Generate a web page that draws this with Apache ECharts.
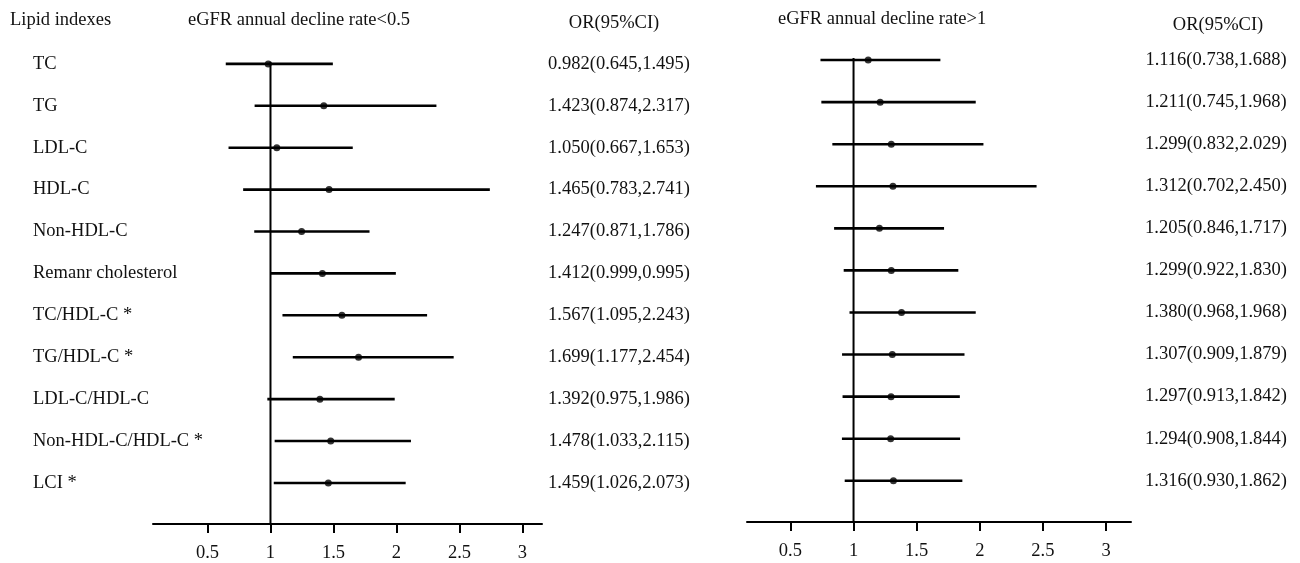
<!DOCTYPE html>
<html>
<head>
<meta charset="utf-8">
<script src="https://cdn.jsdelivr.net/npm/echarts@6/dist/echarts.min.js"></script>
<style>
	html, body { margin: 0; padding: 0; background: #fff; }
	#forest { width: 1300px; height: 563px; }
</style>
</head>
<body>
<div id="forest"></div>
<script>
var names = ['TC', 'TG', 'LDL-C', 'HDL-C', 'Non-HDL-C', 'Remanr cholesterol', 'TC/HDL-C *', 'TG/HDL-C *', 'LDL-C/HDL-C', 'Non-HDL-C/HDL-C *', 'LCI *'];

// eGFR annual decline rate<0.5
var lowOr = [0.982, 1.423, 1.050, 1.465, 1.247, 1.412, 1.567, 1.699, 1.392, 1.478, 1.459];
var lowLo = [0.645, 0.874, 0.667, 0.783, 0.871, 0.999, 1.095, 1.177, 0.975, 1.033, 1.026];
var lowHi = [1.495, 2.317, 1.653, 2.741, 1.786, 1.995, 2.243, 2.454, 1.986, 2.115, 2.073];
var lowLabels = ['0.982(0.645,1.495)', '1.423(0.874,2.317)', '1.050(0.667,1.653)', '1.465(0.783,2.741)', '1.247(0.871,1.786)', '1.412(0.999,0.995)', '1.567(1.095,2.243)', '1.699(1.177,2.454)', '1.392(0.975,1.986)', '1.478(1.033,2.115)', '1.459(1.026,2.073)'];

// eGFR annual decline rate>1
var highOr = [1.116, 1.211, 1.299, 1.312, 1.205, 1.299, 1.380, 1.307, 1.297, 1.294, 1.316];
var highLo = [0.738, 0.745, 0.832, 0.702, 0.846, 0.922, 0.968, 0.909, 0.913, 0.908, 0.930];
var highHi = [1.688, 1.968, 2.029, 2.450, 1.717, 1.830, 1.968, 1.879, 1.842, 1.844, 1.862];
var highLabels = ['1.116(0.738,1.688)', '1.211(0.745,1.968)', '1.299(0.832,2.029)', '1.312(0.702,2.450)', '1.205(0.846,1.717)', '1.299(0.922,1.830)', '1.380(0.968,1.968)', '1.307(0.909,1.879)', '1.297(0.913,1.842)', '1.294(0.908,1.844)', '1.316(0.930,1.862)'];

var xTicks = [0.5, 1, 1.5, 2, 2.5, 3];
var rowIdx = names.map(function(n, i) { return i; });

var FONT = 'Liberation Serif';
var FS = 18.5;
var yBottom = 10.98;

var chart = echarts.init(document.getElementById('forest'));

function xAx(gi, min, max) {
	return {
		type: 'value', gridIndex: gi, min: min, max: max, position: 'bottom',
		axisLine: { onZero: false, lineStyle: { color: '#000', width: 2 } },
		axisTick: { show: true, customValues: xTicks, length: 9, lineStyle: { color: '#000', width: 2 } },
		axisLabel: { customValues: xTicks, color: '#111', fontFamily: FONT, fontSize: FS, margin: 20 },
		splitLine: { show: false }
	};
}

function yAx(gi, pos, labels, margin, align) {
	return {
		type: 'value', gridIndex: gi, position: pos, inverse: true,
		min: -1, max: yBottom,
		axisLine: { show: false, onZero: false },
		axisTick: { show: false },
		splitLine: { show: false },
		axisLabel: {
			customValues: rowIdx,
			margin: margin,
			align: align,
			color: '#111',
			fontFamily: FONT,
			fontSize: FS,
			formatter: function(v) { return labels[Math.round(v)] || ''; }
		}
	};
}

function ciSeries(xi, yi, or, lo, hi) {
	return [{
		type: 'custom',
		xAxisIndex: xi, yAxisIndex: yi,
		data: rowIdx.map(function(i) { return [i, lo[i], hi[i]]; }),
		encode: { x: [1, 2], y: 0 },
		renderItem: function(params, api) {
			var r = api.value(0);
			var a = api.coord([api.value(1), r]);
			var b = api.coord([api.value(2), r]);
			return {
				type: 'line',
				shape: { x1: a[0], y1: a[1], x2: b[0], y2: b[1] },
				style: { stroke: '#000', lineWidth: 2.6 }
			};
		},
		z: 3
	}, {
		type: 'scatter',
		xAxisIndex: xi, yAxisIndex: yi,
		data: rowIdx.map(function(i) { return [or[i], i]; }),
		symbolSize: 7,
		itemStyle: { color: '#000' },
		z: 5
	}, {
		type: 'line',
		xAxisIndex: xi, yAxisIndex: yi,
		data: [[1, -0.05], [1, yBottom]],
		symbol: 'none',
		lineStyle: { color: '#000', width: 2 },
		z: 4
	}];
}

function txt(s, x, y, align) {
	return {
		type: 'text', x: x, y: y,
		style: { text: s, fill: '#111', font: FS + 'px "' + FONT + '"', textAlign: align || 'left', textVerticalAlign: 'middle' }
	};
}

option = {
	animation: false,
	backgroundColor: '#fff',
	grid: [
		{ left: 153, top: 22, width: 389, height: 502 },
		{ left: 747, top: 18, width: 384, height: 504 }
	],
	xAxis: [xAx(0, 0.0675, 3.155), xAx(1, 0.156, 3.198)],
	yAxis: [
		yAx(0, 'left', names, 120, 'left'),
		yAx(0, 'right', lowLabels, 77, 'center'),
		yAx(1, 'right', highLabels, 85, 'center')
	],
	series: [].concat(
		ciSeries(0, 0, lowOr, lowLo, lowHi),
		ciSeries(1, 2, highOr, highLo, highHi)
	),
	graphic: [
		txt('Lipid indexes', 10, 20),
		txt('eGFR annual decline rate<0.5', 188, 20),
		txt('OR(95%CI)', 614, 23, 'center'),
		txt('eGFR annual decline rate>1', 778, 19),
		txt('OR(95%CI)', 1218, 25, 'center')
	]
};

chart.setOption(option);
</script>
</body>
</html>
